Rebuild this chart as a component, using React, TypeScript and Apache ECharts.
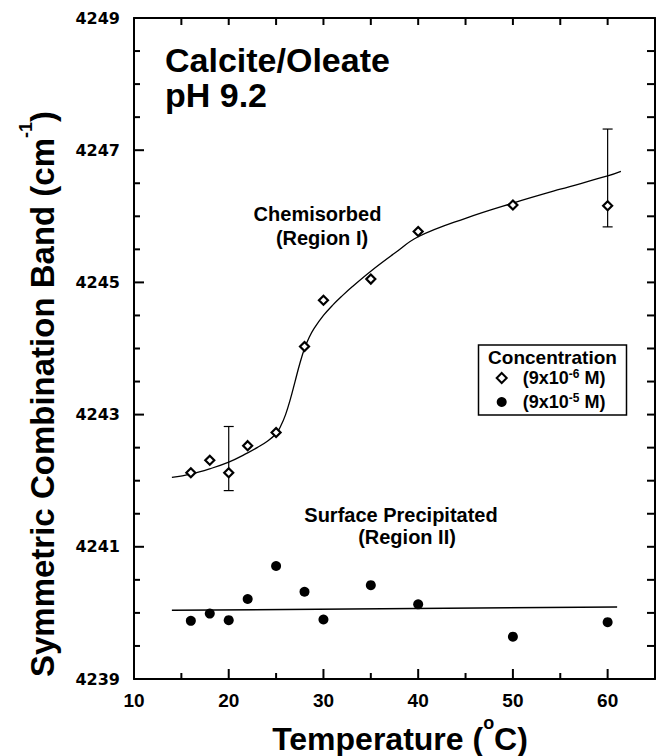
import React, { useEffect, useRef } from 'react';
import * as echarts from 'echarts';

const FONT = '"Liberation Sans", Arial, Helvetica, sans-serif';

// Chemisorbed (9x10^-6 M) – open diamonds
const TEMP_LOW = [16, 18, 20, 22, 25, 28, 30, 35, 40, 50, 60];
const BAND_LOW = [4242.12, 4242.31, 4242.12, 4242.53, 4242.73, 4244.03, 4244.73, 4245.05, 4245.77, 4246.17, 4246.16];
// Surface precipitated (9x10^-5 M) – filled circles
const TEMP_HIGH = [16, 18, 20, 22, 25, 28, 30, 35, 40, 50, 60];
const BAND_HIGH = [4239.88, 4239.99, 4239.89, 4240.21, 4240.71, 4240.32, 4239.9, 4240.42, 4240.13, 4239.64, 4239.86];
// Error bars
const ERR_TEMP = [20, 60];
const ERR_LOW = [4241.85, 4245.84];
const ERR_HIGH = [4242.82, 4247.32];
// Fitted curve, region I
const FIT1_TEMP = [14, 16, 18, 20, 22, 23, 24, 25, 25.5, 26, 26.5, 27, 27.5, 28, 28.5, 29, 30, 31, 32, 33, 35, 37.5, 40, 45, 50, 55, 60, 61.4];
const FIT1_BAND = [4242.05, 4242.1, 4242.18, 4242.28, 4242.42, 4242.5, 4242.59, 4242.71, 4242.83, 4243.0, 4243.23, 4243.5, 4243.77, 4244.0, 4244.17, 4244.3, 4244.5, 4244.66, 4244.8, 4244.93, 4245.17, 4245.44, 4245.69, 4245.97, 4246.2, 4246.41, 4246.61, 4246.68];
// Fitted line, region II
const FIT2_TEMP = [14, 61];
const FIT2_BAND = [4240.04, 4240.09];

// Axes and ticks
const X_MIN = 10;
const X_MAX = 65;
const X_TICKS = [10, 20, 30, 40, 50, 60];
const X_MINOR = [15, 25, 35, 45, 55];
const X_TOP = [15, 20, 25, 30, 35, 40, 45, 50, 55, 60];
const Y_MIN = 4239;
const Y_MAX = 4249;
const Y_TICKS = [4239, 4241, 4243, 4245, 4247, 4249];
const Y_MINOR = [4239.5, 4240, 4240.5, 4241.5, 4242, 4242.5, 4243.5, 4244, 4244.5, 4245.5, 4246, 4246.5, 4247.5, 4248, 4248.5];
const Y_RIGHT = [4239.5, 4240, 4240.5, 4241, 4241.5, 4242, 4242.5, 4243, 4243.5, 4244, 4244.5, 4245, 4245.5, 4246, 4246.5, 4247, 4247.5, 4248, 4248.5];

const LOW_NAME = '(9x10-6 M)';
const HIGH_NAME = '(9x10-5 M)';

const zip = (a: number[], b: number[]) => a.map((v, i) => [v, b[i]]);

function buildOption(): any {
  // tick marks: [x, y, dx(px), dy(px)] anchored on the frame, pointing inward
  const tickMarks = [
    ...X_TICKS.map((v) => [v, Y_MIN, 0, -10]),
    ...X_MINOR.map((v) => [v, Y_MIN, 0, -6]),
    ...X_TOP.map((v) => [v, Y_MAX, 0, 7]),
    ...Y_TICKS.map((v) => [X_MIN, v, 10, 0]),
    ...Y_MINOR.map((v) => [X_MIN, v, 6, 0]),
    ...Y_RIGHT.map((v) => [X_MAX, v, -8, 0]),
  ];
  const frameLine = { show: true, lineStyle: { color: '#000', width: 2 } };
  return {
    animation: false,
    grid: { left: 134, top: 18, width: 521, height: 661 },
    xAxis: [
      {
        type: 'value',
        position: 'bottom',
        min: X_MIN,
        max: X_MAX,
        interval: 10,
        splitLine: { show: false },
        axisLine: frameLine,
        axisTick: { show: false },
        axisLabel: {
          show: true,
          showMaxLabel: false,
          margin: 12,
          color: '#000',
          fontFamily: FONT,
          fontWeight: 'bold',
          fontSize: 19,
          formatter: (v: number) => (X_TICKS.includes(v) ? String(v) : ''),
        },
      },
      {
        type: 'value',
        position: 'top',
        min: X_MIN,
        max: X_MAX,
        splitLine: { show: false },
        axisLine: frameLine,
        axisTick: { show: false },
        axisLabel: { show: false },
      },
    ],
    yAxis: [
      {
        type: 'value',
        position: 'left',
        min: Y_MIN,
        max: Y_MAX,
        interval: 0.5,
        splitLine: { show: false },
        axisLine: frameLine,
        axisTick: { show: false },
        axisLabel: {
          show: true,
          margin: 14,
          color: '#000',
          fontFamily: '"DejaVu Sans", sans-serif',
          fontWeight: 'bold',
          fontSize: 16,
          formatter: (v: number) => (Y_TICKS.includes(v) ? String(v) : ''),
        },
      },
      {
        type: 'value',
        position: 'right',
        min: Y_MIN,
        max: Y_MAX,
        splitLine: { show: false },
        axisLine: frameLine,
        axisTick: { show: false },
        axisLabel: { show: false },
      },
    ],
    legend: {
      data: [LOW_NAME, HIGH_NAME],
      orient: 'vertical',
      left: 495.7,
      top: 368,
      itemWidth: 10,
      itemHeight: 10,
      itemGap: 5,
      selectedMode: false,
      padding: 0,
      formatter: (name: string) =>
        name === LOW_NAME ? '{p|(9x10}{s|-6}{a| M)}' : '{p|(9x10}{s|-5}{a| M)}',
      textStyle: {
        color: '#000',
        rich: {
          p: { fontFamily: FONT, fontWeight: 'bold', fontSize: 18, lineHeight: 20, color: '#000', padding: [0, 0, 0, 11] },
          a: { fontFamily: FONT, fontWeight: 'bold', fontSize: 18, lineHeight: 20, color: '#000' },
          s: { fontFamily: FONT, fontWeight: 'bold', fontSize: 12, lineHeight: 6, verticalAlign: 'top', color: '#000' },
        },
      },
    },
    graphic: [
      {
        type: 'rect',
        shape: { x: 478.5, y: 345, width: 148, height: 70 },
        style: { fill: 'none', stroke: '#000', lineWidth: 1.5 },
        z: 10,
      },
      {
        type: 'text',
        x: 552.5,
        y: 357,
        style: { text: 'Concentration', fontFamily: FONT, fontWeight: 'bold', fontSize: 19, fill: '#000', align: 'center', verticalAlign: 'middle' },
        z: 10,
      },
      {
        type: 'text',
        x: 165,
        y: 60,
        style: { text: 'Calcite/Oleate', fontFamily: FONT, fontWeight: 'bold', fontSize: 34, fill: '#000', align: 'left', verticalAlign: 'middle' },
      },
      {
        type: 'text',
        x: 165,
        y: 95,
        style: { text: 'pH 9.2', fontFamily: FONT, fontWeight: 'bold', fontSize: 34, fill: '#000', align: 'left', verticalAlign: 'middle' },
      },
      {
        type: 'text',
        x: 317.5,
        y: 214,
        style: { text: 'Chemisorbed', fontFamily: FONT, fontWeight: 'bold', fontSize: 20, fill: '#000', align: 'center', verticalAlign: 'middle' },
      },
      {
        type: 'text',
        x: 322,
        y: 238,
        style: { text: '(Region I)', fontFamily: FONT, fontWeight: 'bold', fontSize: 20, fill: '#000', align: 'center', verticalAlign: 'middle' },
      },
      {
        type: 'text',
        x: 401,
        y: 515,
        style: { text: 'Surface Precipitated', fontFamily: FONT, fontWeight: 'bold', fontSize: 20, fill: '#000', align: 'center', verticalAlign: 'middle' },
      },
      {
        type: 'text',
        x: 407,
        y: 537,
        style: { text: '(Region II)', fontFamily: FONT, fontWeight: 'bold', fontSize: 20, fill: '#000', align: 'center', verticalAlign: 'middle' },
      },
      {
        type: 'text',
        x: 400,
        y: 739,
        style: {
          text: '{a|Temperature (}{s|o}{a|C)}',
          align: 'center',
          verticalAlign: 'middle',
          rich: {
            a: { fontFamily: FONT, fontWeight: 'bold', fontSize: 32, lineHeight: 50, fill: '#000' },
            s: { fontFamily: FONT, fontWeight: 'bold', fontSize: 18, lineHeight: 17, verticalAlign: 'top', fill: '#000' },
          },
        },
      },
      {
        type: 'text',
        x: 42,
        y: 394,
        rotation: Math.PI / 2,
        style: {
          text: '{a|Symmetric Combination Band (cm}{s|-1}{a|)}',
          align: 'center',
          verticalAlign: 'middle',
          rich: {
            a: { fontFamily: FONT, fontWeight: 'bold', fontSize: 33, lineHeight: 50, fill: '#000' },
            s: { fontFamily: FONT, fontWeight: 'bold', fontSize: 18, lineHeight: 17, verticalAlign: 'top', fill: '#000' },
          },
        },
      },
    ],
    series: [
      {
        name: 'Axis ticks',
        type: 'custom',
        data: tickMarks,
        dimensions: ['x', 'y', 'dx', 'dy'],
        encode: { x: 'x', y: 'y' },
        clip: false,
        silent: true,
        z: 4,
        renderItem: (params: any, api: any) => {
          const p = api.coord([api.value(0), api.value(1)]);
          const dx = api.value(2);
          const dy = api.value(3);
          return {
            type: 'line',
            shape: { x1: p[0], y1: p[1], x2: p[0] + dx, y2: p[1] + dy },
            style: { stroke: '#000', lineWidth: 2 },
          };
        },
      },
      {
        name: 'Fit region I',
        type: 'line',
        data: zip(FIT1_TEMP, FIT1_BAND),
        smooth: 0.4,
        showSymbol: false,
        lineStyle: { color: '#000', width: 1.3 },
        z: 2,
      },
      {
        name: 'Fit region II',
        type: 'line',
        data: zip(FIT2_TEMP, FIT2_BAND),
        showSymbol: false,
        lineStyle: { color: '#000', width: 1.5 },
        z: 2,
      },
      {
        name: 'Error bars',
        type: 'custom',
        data: ERR_TEMP.map((t, i) => [t, ERR_LOW[i], ERR_HIGH[i]]),
        encode: { x: 0, y: [1, 2] },
        z: 3,
        renderItem: (params: any, api: any) => {
          const x = api.value(0);
          const lo = api.coord([x, api.value(1)]);
          const hi = api.coord([x, api.value(2)]);
          const hw = 5;
          const st = { stroke: '#000', lineWidth: 1.2 };
          return {
            type: 'group',
            children: [
              { type: 'line', shape: { x1: lo[0], y1: lo[1], x2: hi[0], y2: hi[1] }, style: st },
              { type: 'line', shape: { x1: lo[0] - hw, y1: lo[1], x2: lo[0] + hw, y2: lo[1] }, style: st },
              { type: 'line', shape: { x1: hi[0] - hw, y1: hi[1], x2: hi[0] + hw, y2: hi[1] }, style: st },
            ],
          };
        },
      },
      {
        name: LOW_NAME,
        type: 'scatter',
        data: zip(TEMP_LOW, BAND_LOW),
        symbol: 'diamond',
        symbolSize: 9,
        itemStyle: { color: '#fff', borderColor: '#000', borderWidth: 2.2, opacity: 1 },
        z: 5,
      },
      {
        name: HIGH_NAME,
        type: 'scatter',
        data: zip(TEMP_HIGH, BAND_HIGH),
        symbol: 'circle',
        symbolSize: 10,
        itemStyle: { color: '#000', opacity: 1 },
        z: 5,
      },
    ],
  };
}

export default function App() {
  const ref = useRef<HTMLDivElement>(null);
  useEffect(() => {
    if (!ref.current) return;
    const chart = echarts.init(ref.current, null, { renderer: 'svg' });
    chart.setOption(buildOption());
    return () => chart.dispose();
  }, []);
  return (
    <div
      ref={ref}
      style={{ position: 'absolute', left: 0, top: 0, width: 656, height: 756, background: '#fff' }}
    />
  );
}
